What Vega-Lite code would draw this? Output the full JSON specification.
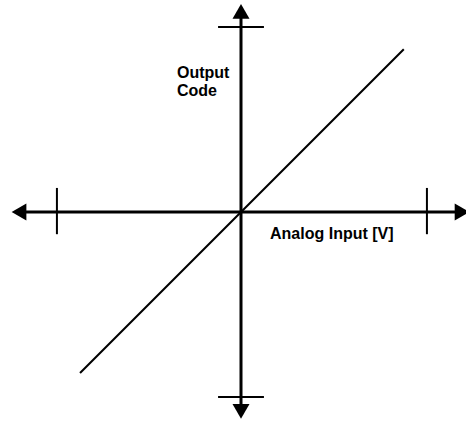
{
  "$schema": "https://vega.github.io/schema/vega-lite/v6.json",
  "width": 466,
  "height": 421,
  "autosize": {"type": "none"},
  "padding": 0,
  "background": "white",
  "config": {"view": {"stroke": null}},
  "datasets": {
    "axes": [
      {"x": -1.2, "y": 0, "x2": 1.195, "y2": 0},
      {"x": 0, "y": -1.078, "x2": 0, "y2": 1.084}
    ],
    "ticks": [
      {"x": -0.995, "y": -0.12, "x2": -0.995, "y2": 0.13},
      {"x": 1.005, "y": -0.12, "x2": 1.005, "y2": 0.13},
      {"x": -0.124, "y": 1.0, "x2": 0.124, "y2": 1.0},
      {"x": -0.124, "y": -1.0, "x2": 0.124, "y2": -1.0}
    ],
    "diag": [
      {"x": -0.87, "y": -0.87, "x2": 0.88, "y2": 0.88}
    ],
    "arrows": [
      {"x": 0, "y": 1.084, "dir": "up"},
      {"x": 0, "y": -1.078, "dir": "down"},
      {"x": -1.2, "y": 0, "dir": "left"},
      {"x": 1.195, "y": 0, "dir": "right"}
    ],
    "labels": [
      {"x": -0.346, "y": 0.724, "label": "Output"},
      {"x": -0.346, "y": 0.627, "label": "Code"},
      {"x": 0.157, "y": -0.146, "label": "Analog Input [V]"}
    ]
  },
  "layer": [
    {
      "data": {"name": "axes"},
      "mark": {"type": "rule", "color": "black", "strokeWidth": 3},
      "encoding": {
        "x": {"field": "x", "type": "quantitative", "scale": {"domain": [-1.3027, 1.2162], "nice": false, "zero": false}, "axis": null},
        "y": {"field": "y", "type": "quantitative", "scale": {"domain": [-1.1297, 1.1459], "nice": false, "zero": false}, "axis": null},
        "x2": {"field": "x2"},
        "y2": {"field": "y2"}
      }
    },
    {
      "data": {"name": "ticks"},
      "mark": {"type": "rule", "color": "black", "strokeWidth": 2},
      "encoding": {
        "x": {"field": "x", "type": "quantitative"},
        "y": {"field": "y", "type": "quantitative"},
        "x2": {"field": "x2"},
        "y2": {"field": "y2"}
      }
    },
    {
      "data": {"name": "diag"},
      "mark": {"type": "rule", "color": "black", "strokeWidth": 2},
      "encoding": {
        "x": {"field": "x", "type": "quantitative"},
        "y": {"field": "y", "type": "quantitative"},
        "x2": {"field": "x2"},
        "y2": {"field": "y2"}
      }
    },
    {
      "data": {"name": "arrows"},
      "mark": {"type": "point", "filled": true, "color": "black", "opacity": 1, "size": 289},
      "encoding": {
        "x": {"field": "x", "type": "quantitative"},
        "y": {"field": "y", "type": "quantitative"},
        "shape": {"field": "dir", "type": "nominal", "scale": {"domain": ["up", "down", "left", "right"], "range": ["triangle-up", "triangle-down", "triangle-left", "triangle-right"]}, "legend": null}
      }
    },
    {
      "data": {"name": "labels"},
      "mark": {"type": "text", "align": "left", "baseline": "alphabetic", "font": "Liberation Sans", "fontWeight": "bold", "fontSize": 16, "color": "black"},
      "encoding": {
        "x": {"field": "x", "type": "quantitative"},
        "y": {"field": "y", "type": "quantitative"},
        "text": {"field": "label"}
      }
    }
  ]
}
